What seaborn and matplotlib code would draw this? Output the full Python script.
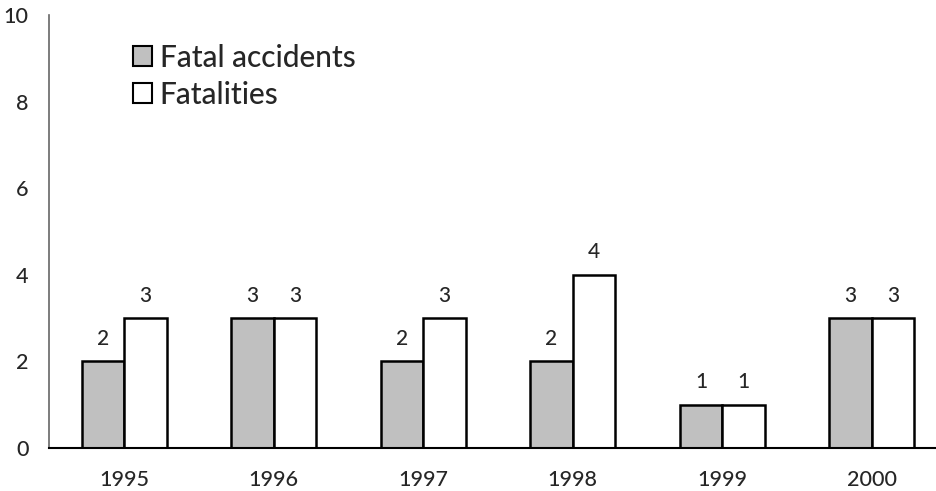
import matplotlib
matplotlib.use("Agg")
import matplotlib.pyplot as plt
import seaborn as sns
import pandas as pd

years = ["1995", "1996", "1997", "1998", "1999", "2000"]
fatal_accidents = [2, 3, 2, 2, 1, 3]
fatalities = [3, 3, 3, 4, 1, 3]
series_names = ["Fatal accidents", "Fatalities"]
y_ticks = [0, 2, 4, 6, 8, 10]

df = pd.DataFrame({
    "year": years * 2,
    "value": fatal_accidents + fatalities,
    "series": [series_names[0]] * len(years) + [series_names[1]] * len(years),
})

sns.set_style("white")
plt.rcParams["font.family"] = ["Lato", "DejaVu Sans"]
plt.rcParams["font.weight"] = "medium"

fig = plt.figure(figsize=(9.37, 4.91), dpi=100)
ax = fig.add_axes([49.5 / 937, 43 / 491, 897 / 937, 433 / 491])

sns.barplot(data=df, x="year", y="value", hue="series",
            palette={series_names[0]: "#C0C0C0", series_names[1]: "#FFFFFF"},
            edgecolor="black", linewidth=1.8, width=0.57, ax=ax,
            saturation=1)

for cont in ax.containers:
    ax.bar_label(cont, padding=9, fontsize=15)

ax.set_ylim(0, 10)
ax.set_xlim(-0.5, 5.5)
ax.set_yticks(y_ticks)
ax.set_xlabel("")
ax.set_ylabel("")
ax.tick_params(axis="y", direction="in", length=5, width=1, color="#555555",
               labelsize=15.5, pad=15)
ax.tick_params(axis="x", length=0, labelsize=15.5, pad=16)

for s in ["top", "right"]:
    ax.spines[s].set_visible(False)
ax.spines["left"].set_color("#666666")
ax.spines["left"].set_linewidth(1.2)
ax.spines["bottom"].set_color("black")
ax.spines["bottom"].set_linewidth(1.5)

leg = ax.legend(loc="upper left", bbox_to_anchor=(121 / 937, 1 - 32 / 491),
                bbox_transform=fig.transFigure, frameon=False, fontsize=21.5,
                handlelength=0.65, handleheight=0.65, handletextpad=0.25,
                labelspacing=0.3, borderaxespad=0)
for h in leg.legend_handles:
    h.set_linewidth(1.5)

fig.savefig("out.png", dpi=100)
